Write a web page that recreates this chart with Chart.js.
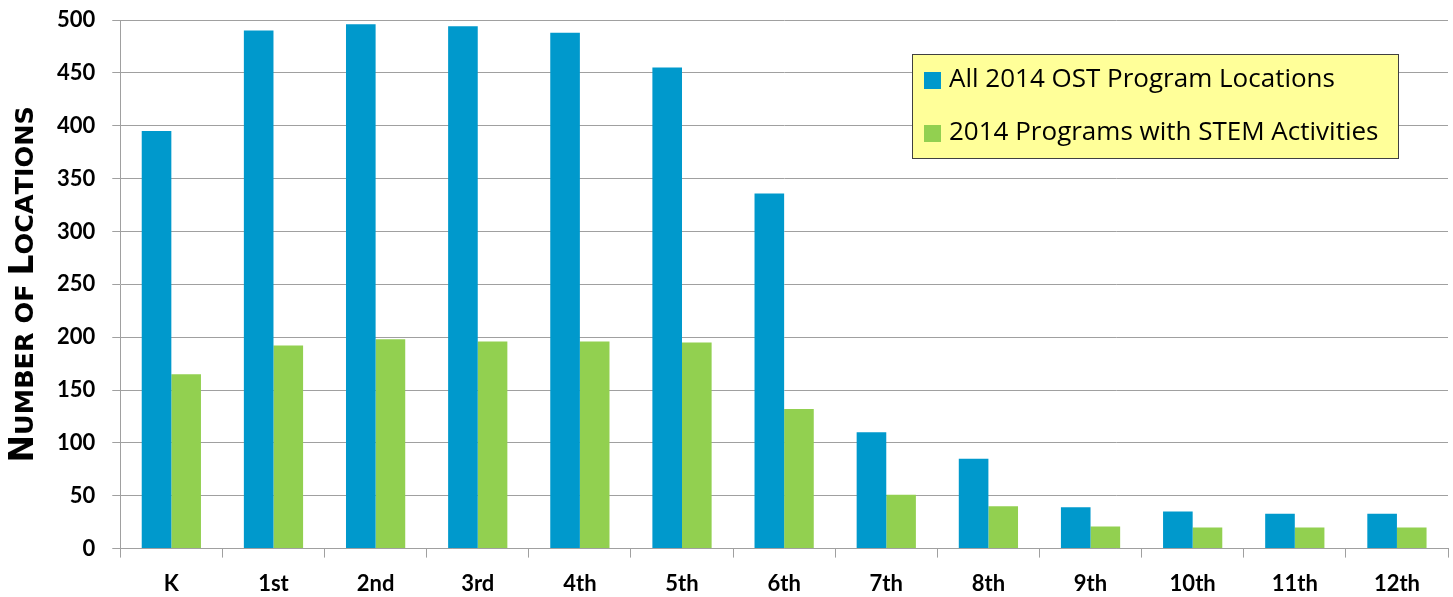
<!DOCTYPE html>
<html>
<head>
<meta charset="utf-8">
<script src="https://cdn.jsdelivr.net/npm/chart.js@4/dist/chart.umd.min.js"></script>
<style>
  html, body { margin: 0; padding: 0; background: #fff; }
  #wrap { width: 1453px; height: 597px; }
</style>
</head>
<body>
<div id="wrap"><canvas id="bar-chart" width="1453" height="597"></canvas></div>
<script>
  var grades = ['K', '1st', '2nd', '3rd', '4th', '5th', '6th', '7th', '8th', '9th', '10th', '11th', '12th'];
  var allLocations = [395, 490, 496, 494, 488, 455, 336, 110, 85, 39, 35, 33, 33];
  var stemLocations = [165, 192, 198, 196, 196, 195, 132, 51, 40, 21, 20, 20, 20];
  var seriesNames = ['All 2014 OST Program Locations', '2014 Programs with STEM Activities'];
  var seriesColors = ['#0099cc', '#92d050'];
  var yTicks = [0, 50, 100, 150, 200, 250, 300, 350, 400, 450, 500];
  var yTitle = 'Number of Locations';

  // legend box drawn inside the plot, top right
  var boxLegend = {
    id: 'boxLegend',
    afterDraw: function (chart) {
      var ctx = chart.ctx;
      var x = 912, y = 54, w = 486, h = 104;
      ctx.save();
      ctx.fillStyle = '#ffff99';
      ctx.fillRect(x, y, w, h);
      ctx.strokeStyle = '#404040';
      ctx.lineWidth = 1;
      ctx.strokeRect(x + 0.5, y + 0.5, w, h);
      ctx.font = '26px "Open Sans"';
      ctx.textBaseline = 'middle';
      chart.data.datasets.forEach(function (ds, i) {
        var cy = y + 26 + i * 53;
        ctx.fillStyle = ds.backgroundColor;
        ctx.fillRect(x + 12, cy - 8, 17, 17);
        ctx.fillStyle = '#000';
        ctx.fillText(ds.label, x + 37, cy);
      });
      ctx.restore();
    }
  };

  // y title in small caps (canvas has no small-caps, so draw it by hand)
  var smallCapsTitle = {
    id: 'smallCapsTitle',
    afterDraw: function (chart) {
      var ctx = chart.ctx;
      var big = 'bold 33px "DejaVu Sans"', small = 'bold 25.5px "DejaVu Sans"';
      var parts = yTitle.split('').map(function (c) {
        var up = c.toUpperCase();
        return { t: up, f: (c === up && c !== ' ') ? big : small };
      });
      ctx.save();
      var total = 0;
      parts.forEach(function (p) { ctx.font = p.f; p.w = ctx.measureText(p.t).width; total += p.w; });
      var area = chart.chartArea;
      ctx.translate(22, (area.top + area.bottom) / 2);
      ctx.rotate(-Math.PI / 2);
      ctx.fillStyle = '#000';
      ctx.textBaseline = 'alphabetic';
      var px = -total / 2;
      parts.forEach(function (p) {
        ctx.font = p.f;
        ctx.fillText(p.t, px, 11);
        px += p.w;
      });
      ctx.restore();
    }
  };

  new Chart(document.getElementById('bar-chart'), {
    type: 'bar',
    data: {
      labels: grades,
      datasets: [
        { label: seriesNames[0], data: allLocations, backgroundColor: seriesColors[0] },
        { label: seriesNames[1], data: stemLocations, backgroundColor: seriesColors[1] }
      ]
    },
    options: {
      responsive: false,
      animation: false,
      devicePixelRatio: 1,
      layout: { padding: { top: 0, right: 5, left: 40, bottom: -13 } },
      categoryPercentage: 0.58,
      barPercentage: 1,
      plugins: {
        legend: { display: false },
        tooltip: { enabled: false }
      },
      scales: {
        x: {
          grid: { display: true, drawOnChartArea: false, offset: true, color: '#a0a0a0', tickLength: 9 },
          border: { color: '#a0a0a0' },
          ticks: { color: '#000', padding: 13, font: { family: 'Lato', weight: 'bold', size: 22 } }
        },
        y: {
          min: 0,
          max: 500,
          afterBuildTicks: function (axis) {
            axis.ticks = yTicks.map(function (v) { return { value: v }; });
          },
          afterFit: function (axis) {
            // tick padding is meant horizontally only; keep the top label close to the edge
            axis.paddingTop = 20;
          },
          grid: { color: '#a0a0a0', tickLength: 8 },
          border: { color: '#a0a0a0' },
          ticks: { color: '#000', padding: 17, font: { family: 'Lato', weight: 'bold', size: 22 } }
        }
      }
    },
    plugins: [boxLegend, smallCapsTitle]
  });
</script>
</body>
</html>
